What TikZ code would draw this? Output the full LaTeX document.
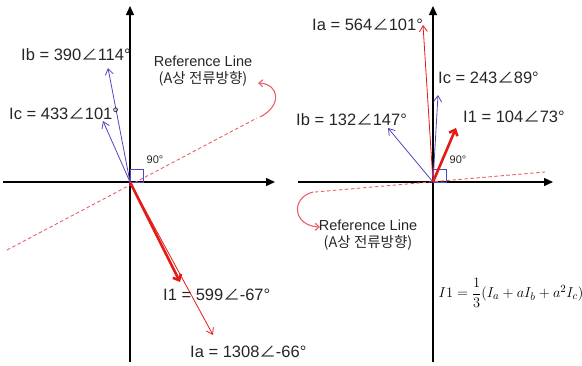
\documentclass[tikz,border=0pt]{standalone}
\usepackage{amsmath}
\usepackage{fontspec}
\setmainfont{Liberation Sans}
\newfontfamily\krfont{Noto Sans CJK KR}
\usetikzlibrary{arrows.meta}
\definecolor{vecblue}{RGB}{80,70,190}
\definecolor{vecred}{RGB}{230,25,25}
\definecolor{refred}{RGB}{235,95,105}
\newcommand\angsym{{\krfont ∠}}
\tikzset{
  axis/.style={line width=1.4pt,-{Triangle[length=9pt,width=8pt]}},
  thinvec/.style={line width=0.8pt,-{Straight Barb[length=6pt,width=8pt]}},
  thickvec/.style={line width=2.6pt,vecred,-{Straight Barb[length=5pt,width=9pt]}},
  refline/.style={refred,line width=0.9pt,dash pattern=on 3.5pt off 2.5pt},
  turn/.style={refred,line width=1.1pt,-{Straight Barb[length=4pt,width=7pt]}},
  lbl/.style={anchor=west,inner sep=0pt,font=\fontsize{16.5}{19}\selectfont,text=black!85},
  reflbl/.style={align=center,inner sep=0pt,font=\fontsize{14.5}{17.5}\selectfont,text=black!85},
  rightlbl/.style={inner sep=0pt,font=\fontsize{11}{13}\selectfont,text=black!85}
}

\begin{document}
\begin{tikzpicture}[x=1pt,y=-1pt]
\useasboundingbox (0,0) rectangle (582,365);
% left diagram
\coordinate (O1) at (130,182);
\coordinate (Y1b) at (130,362);
\coordinate (Y1t) at (130,6);
\coordinate (X1l) at (3,182);
\coordinate (X1r) at (275,182);
\coordinate (Ib1) at (108,68);
\coordinate (Ic1) at (103,121);
\coordinate (I11) at (180,282);
\coordinate (Ia1) at (213,335);
\coordinate (R1a) at (7,250);
\coordinate (R1b) at (257,118);
\draw[axis] (Y1b) -- (Y1t);
\draw[axis] (X1l) -- (X1r);
\draw[refline] (R1a) -- (R1b);
\draw[turn] (260,117) .. controls (282,106) and (280,84) .. (258,83);
\draw[vecblue,line width=0.5pt] (O1) rectangle ++(13,-13);
\draw[thinvec,vecblue] (O1) -- (Ib1);
\draw[thinvec,vecblue] (O1) -- (Ic1);
\draw[thinvec,vecred] (O1) -- (Ia1);
\draw[thickvec] (O1) -- (I11);
\node[lbl] (ib1lbl) at (21,55) {Ib = 390\angsym114°};
\node[lbl] (ic1lbl) at (9,114) {Ic = 433\angsym101°};
\node[lbl] (i11lbl) at (163,295) {I1 = 599\angsym-67°};
\node[lbl] (ia1lbl) at (190,352) {Ia = 1308\angsym-66°};
\node[reflbl] (ref1lbl) at (203,71) {Reference Line\\{\krfont (A상 전류방향)}};
\node[rightlbl] (deg1) at (155,160) {90°};
% right diagram
\coordinate (O2) at (433,182);
\coordinate (Y2b) at (433,362);
\coordinate (Y2t) at (433,6);
\coordinate (X2l) at (298,182);
\coordinate (X2r) at (553,182);
\coordinate (Ia2) at (423,25);
\coordinate (Ic2) at (438,95);
\coordinate (Ib2) at (388,128);
\coordinate (I12) at (456,128);
\coordinate (R2a) at (315,192);
\coordinate (R2b) at (545,172);
\draw[axis] (Y2b) -- (Y2t);
\draw[axis] (X2l) -- (X2r);
\draw[refline] (R2a) -- (R2b);
\draw[turn] (313,192) .. controls (290,198) and (293,226) .. (320,227);
\draw[vecblue,line width=0.5pt] (O2) rectangle ++(13,-13);
\draw[thinvec,vecred] (O2) -- (Ia2);
\draw[thinvec,vecblue] (O2) -- (Ic2);
\draw[thinvec,vecblue] (O2) -- (Ib2);
\draw[thickvec] (O2) -- (I12);
\node[lbl] (ia2lbl) at (312,25) {Ia = 564\angsym101°};
\node[lbl] (ic2lbl) at (438,78) {Ic = 243\angsym89°};
\node[lbl] (ib2lbl) at (296,120) {Ib = 132\angsym147°};
\node[lbl] (i12lbl) at (463,117) {I1 = 104\angsym73°};
\node[reflbl] (ref2lbl) at (368,235) {Reference Line\\{\krfont (A상 전류방향)}};
\node[rightlbl] (deg2) at (458,160) {90°};
\node[inner sep=0pt,font=\fontsize{15}{18}\selectfont] (eqn) at (511,293)
  {$I1=\dfrac{1}{3}(I_a+aI_b+a^2I_c)$};
\end{tikzpicture}
\end{document}
